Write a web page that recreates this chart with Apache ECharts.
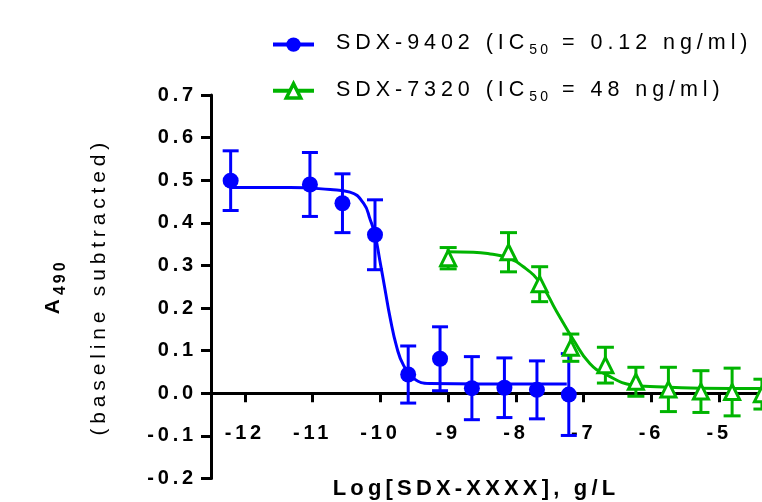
<!DOCTYPE html>
<html>
<head>
<meta charset="utf-8">
<script src="https://cdn.jsdelivr.net/npm/echarts@6/dist/echarts.min.js"></script>
<style>
  html, body { margin: 0; padding: 0; background: #fff; }
  #chart { width: 762px; height: 502px; }
</style>
</head>
<body>
<div id="chart"></div>
<script>
// measured points (log g/L, A490) with SEM
const blueX = [-12.21, -11.04, -10.56, -10.08, -9.59, -9.12, -8.65, -8.17, -7.69, -7.22];
const blueY = [0.499, 0.49, 0.446, 0.372, 0.044, 0.081, 0.012, 0.013, 0.008, -0.003];
const blueErr = [0.07, 0.075, 0.069, 0.082, 0.067, 0.075, 0.074, 0.07, 0.068, 0.096];

const greenX = [-9.0, -8.11, -7.65, -7.19, -6.68, -6.23, -5.75, -5.27, -4.81, -4.37];
const greenY = [0.317, 0.331, 0.256, 0.107, 0.066, 0.027, 0.009, 0.004, 0.003, -0.002];
const greenErr = [0.025, 0.046, 0.041, 0.032, 0.042, 0.034, 0.052, 0.049, 0.056, 0.035];

// fitted curves
const blueCurveX = [-12.21, -11.33, -10.74, -10.45, -10.25, -10.15, -10.08, -10.01, -9.93, -9.86, -9.76, -9.66, -9.51, -9.27, -8.53, -7.25];
const blueCurveY = [0.483, 0.483, 0.478, 0.472, 0.446, 0.407, 0.372, 0.313, 0.242, 0.18, 0.109, 0.066, 0.035, 0.023, 0.022, 0.022];
const greenCurveX = [-9.02, -8.63, -8.38, -8.14, -7.89, -7.64, -7.4, -7.15, -6.91, -6.66, -6.27, -6.02, -5.28, -4.37, -4.0];
const greenCurveY = [0.332, 0.331, 0.327, 0.319, 0.297, 0.258, 0.192, 0.125, 0.07, 0.043, 0.019, 0.016, 0.012, 0.011, 0.011];

const seriesNames = ['SDX-9402 (IC50 = 0.12 ng/ml)', 'SDX-7320 (IC50 = 48 ng/ml)'];

const BLUE = '#0000ff';
const GREEN = '#00b400';
const FONT = '"Liberation Sans", Arial, Helvetica, sans-serif';

// the original uses wide tracking on all text
function spacingFor(font) {
    const m = /(\d+(?:\.\d+)?)px/.exec(font || '');
    const size = m ? +m[1] : 12;
    return size * (/bold|[6-9]00/.test(font) ? 0.19 : 0.23);
}
const measureCtx = document.createElement('canvas').getContext('2d');
const metricKeys = ['actualBoundingBoxAscent', 'actualBoundingBoxDescent', 'actualBoundingBoxLeft',
    'actualBoundingBoxRight', 'fontBoundingBoxAscent', 'fontBoundingBoxDescent',
    'emHeightAscent', 'emHeightDescent', 'alphabeticBaseline', 'hangingBaseline', 'ideographicBaseline'];
if (echarts.setPlatformAPI) {
    echarts.setPlatformAPI({
        measureText(text, font) {
            measureCtx.font = font || '12px sans-serif';
            const m = measureCtx.measureText(text);
            const out = { width: m.width + spacingFor(measureCtx.font) * String(text).length };
            metricKeys.forEach(k => { if (m[k] !== undefined) out[k] = m[k]; });
            return out;
        }
    });
}
const fillText0 = CanvasRenderingContext2D.prototype.fillText;
CanvasRenderingContext2D.prototype.fillText = function (text, x, y, maxWidth) {
    this.letterSpacing = spacingFor(this.font) + 'px';
    return maxWidth === undefined ? fillText0.call(this, text, x, y) : fillText0.call(this, text, x, y, maxWidth);
};

function zip(xs, ys, es) {
    return xs.map((x, i) => es ? [x, ys[i], es[i]] : [x, ys[i]]);
}

function errorBars(color, half) {
    return function (params, api) {
        const x = api.value(0);
        const y = api.value(1);
        const e = api.value(2);
        const top = api.coord([x, y + e]);
        const bot = api.coord([x, y - e]);
        const style = { stroke: color, lineWidth: 3, fill: null };
        return {
            type: 'group',
            children: [
                { type: 'line', shape: { x1: top[0], y1: top[1], x2: bot[0], y2: bot[1] }, style: style },
                { type: 'line', shape: { x1: top[0] - half, y1: top[1], x2: top[0] + half, y2: top[1] }, style: style },
                { type: 'line', shape: { x1: bot[0] - half, y1: bot[1], x2: bot[0] + half, y2: bot[1] }, style: style }
            ]
        };
    };
}

const Y_MIN = -0.2;
const Y_MAX = 0.7;
const GRID_TOP = 95;
const GRID_BOTTOM = 23.5;
const plotH = 502 - GRID_TOP - GRID_BOTTOM;
// x axis sits on y = 0, moved up from the grid bottom
const zeroOffset = -plotH * (0 - Y_MIN) / (Y_MAX - Y_MIN);

const chart = echarts.init(document.getElementById('chart'), null, { renderer: 'canvas' });

const option = {
    animation: false,
    textStyle: { fontFamily: FONT, color: '#000' },
    legend: {
        orient: 'vertical',
        left: 271,
        top: 30,
        padding: 0,
        itemGap: 17,
        itemWidth: 41,
        itemHeight: 18,
        selectedMode: false,
        lineStyle: { width: 4 },
        data: [
            { name: seriesNames[0] },
            { name: seriesNames[1], itemStyle: { color: '#fff', borderColor: GREEN, borderWidth: 3.5 } }
        ],
        formatter: function (name) {
            return '{t|' + name.replace('IC50', 'IC}{s|50}{t|') + '}';
        },
        textStyle: {
            padding: [0, 0, 0, 17],
            rich: {
                t: { fontSize: 21.5, color: '#000', fontFamily: FONT, verticalAlign: 'top' },
                s: { fontSize: 14, color: '#000', fontFamily: FONT, verticalAlign: 'top', padding: [12, 0, 0, 0] }
            }
        }
    },
    grid: {
        left: 211,
        top: GRID_TOP,
        right: -25,
        bottom: GRID_BOTTOM,
        containLabel: false,
        outerBoundsMode: 'none'
    },
    xAxis: {
        type: 'value',
        min: -12.5,
        max: -4,
        splitNumber: 8,
        offset: zeroOffset,
        axisLine: { onZero: false, lineStyle: { color: '#000', width: 3 } },
        axisTick: { length: 9, lineStyle: { color: '#000', width: 3 } },
        axisLabel: {
            showMinLabel: false,
            showMaxLabel: false,
            margin: 28,
            color: '#000',
            fontSize: 20,
            fontWeight: 'bold',
            fontFamily: FONT
        },
        splitLine: { show: false },
        name: 'Log[SDX-XXXX], g/L',
        nameLocation: 'middle',
        nameGap: 83,
        nameTextStyle: {
            fontSize: 22,
            fontWeight: 'bold',
            color: '#000',
            fontFamily: FONT,
            padding: [0, 46, 0, 0]
        }
    },
    yAxis: {
        type: 'value',
        min: Y_MIN,
        max: Y_MAX,
        interval: 0.1,
        axisLine: { show: true, onZero: false, lineStyle: { color: '#000', width: 3 } },
        axisTick: { show: true, length: 10, lineStyle: { color: '#000', width: 3 } },
        axisLabel: {
            margin: 14,
            color: '#000',
            fontSize: 20,
            fontWeight: 'bold',
            fontFamily: FONT,
            formatter: function (v) { return v.toFixed(1); }
        },
        splitLine: { show: false },
        name: '{a|A}{s|490}\n{b|(baseline subtracted)}',
        nameLocation: 'middle',
        nameGap: 99,
        nameTextStyle: {
            rich: {
                a: { fontSize: 21, fontWeight: 'bold', color: '#000', fontFamily: FONT, verticalAlign: 'top' },
                s: { fontSize: 16, fontWeight: 'bold', color: '#000', fontFamily: FONT, verticalAlign: 'top', padding: [10, 0, 0, 0] },
                b: { fontSize: 21, color: '#000', fontFamily: FONT, verticalAlign: 'top', padding: [16, 0, 0, 0] }
            }
        }
    },
    series: [
        {
            name: seriesNames[0],
            type: 'line',
            data: zip(blueCurveX, blueCurveY),
            smooth: 0.5,
            showSymbol: false,
            symbol: 'circle',
            lineStyle: { color: BLUE, width: 3 },
            itemStyle: { color: BLUE },
            z: 3
        },
        {
            name: seriesNames[1],
            type: 'line',
            data: zip(greenCurveX, greenCurveY),
            smooth: 0.5,
            showSymbol: false,
            symbol: 'triangle',
            lineStyle: { color: GREEN, width: 3 },
            itemStyle: { color: GREEN },
            z: 3
        },
        {
            name: 'blue-err',
            type: 'custom',
            renderItem: errorBars(BLUE, 8),
            data: zip(blueX, blueY, blueErr),
            encode: { x: 0, y: 1 },
            z: 4
        },
        {
            name: 'green-err',
            type: 'custom',
            renderItem: errorBars(GREEN, 8.5),
            data: zip(greenX, greenY, greenErr),
            encode: { x: 0, y: 1 },
            z: 4
        },
        {
            name: 'blue-pts',
            type: 'scatter',
            data: zip(blueX, blueY),
            symbol: 'circle',
            symbolSize: 16,
            itemStyle: { color: BLUE, opacity: 1 },
            z: 5
        },
        {
            name: 'green-pts',
            type: 'scatter',
            data: zip(greenX, greenY),
            symbol: 'triangle',
            symbolSize: 15,
            itemStyle: { color: '#fff', borderColor: GREEN, borderWidth: 3, opacity: 1 },
            z: 5
        }
    ]
};

chart.setOption(option);
</script>
</body>
</html>
